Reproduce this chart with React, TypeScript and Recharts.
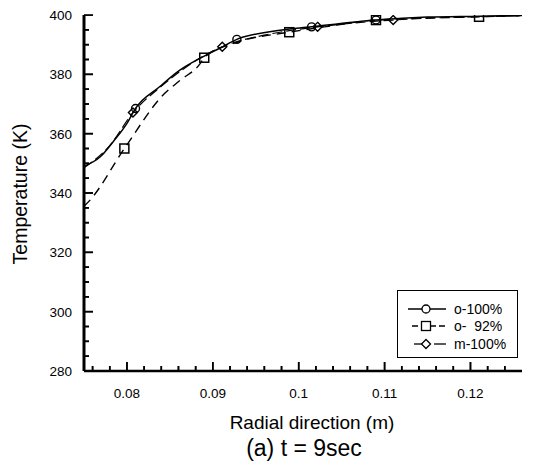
import { ComposedChart, Line, Scatter, XAxis, YAxis } from "recharts";

// o-100% (solid, circles)
const o100X = [0.075, 0.0769, 0.0784, 0.08, 0.081, 0.0838, 0.0862, 0.0885, 0.0908, 0.0928, 0.097, 0.1015, 0.109, 0.115, 0.121, 0.126];
const o100Y = [349, 352.2, 357.3, 363.5, 368.5, 375.8, 381.5, 385.4, 388.8, 391.8, 394.5, 396, 398.3, 399.3, 399.6, 399.9];
const o100MarkX = [0.081, 0.0928, 0.1015, 0.109];
const o100MarkY = [368.5, 391.8, 396, 398.3];

// o-92% (dashed, squares)
const o92X = [0.075, 0.0757, 0.0797, 0.0844, 0.0862, 0.0885, 0.089, 0.0925, 0.0989, 0.103, 0.109, 0.121, 0.126];
const o92Y = [335.5, 337.6, 355, 373.6, 378, 383.5, 385.6, 390.5, 394.2, 396, 398.3, 399.4, 399.8];
const o92MarkX = [0.0797, 0.089, 0.0989, 0.109, 0.121];
const o92MarkY = [355, 385.6, 394.2, 398.3, 399.4];

// m-100% (long dash, diamonds)
const m100X = [0.075, 0.078, 0.0807, 0.0838, 0.0862, 0.0885, 0.0911, 0.0965, 0.1022, 0.111, 0.126];
const m100Y = [348.5, 356, 367.1, 375.5, 381, 385.5, 389.3, 393.5, 396, 398.3, 399.7];
const m100MarkX = [0.0807, 0.0911, 0.1022, 0.111];
const m100MarkY = [367.1, 389.3, 396, 398.3];

const xTicks = [0.076, 0.078, 0.08, 0.082, 0.084, 0.086, 0.088, 0.09, 0.092, 0.094, 0.096, 0.098, 0.1, 0.102, 0.104, 0.106, 0.108, 0.11, 0.112, 0.114, 0.116, 0.118, 0.12, 0.122, 0.124];
const xMajor = [0.08, 0.09, 0.1, 0.11, 0.12];
const xMajorLabels = ["0.08", "0.09", "0.1", "0.11", "0.12"];
const yTicks = [280, 285, 290, 295, 300, 305, 310, 315, 320, 325, 330, 335, 340, 345, 350, 355, 360, 365, 370, 375, 380, 385, 390, 395, 400];
const yMajor = [280, 300, 320, 340, 360, 380, 400];

const legendItems = ["o-100%", "o-  92%", "m-100%"];

const zip = (xs: number[], ys: number[]) => xs.map((x, i) => ({ x, y: ys[i] }));

const FONT = "Arial, 'Liberation Sans', sans-serif";
const X_DOMAIN = [0.075, 0.126];
const Y_DOMAIN = [280, 400];

const xMajorIndex = (v: number) => xMajor.findIndex((m) => Math.abs(m - v) < 1e-6);

function XTick({ x, y, payload }: any) {
  const idx = xMajorIndex(payload.value);
  const len = idx >= 0 ? 9 : 5;
  return (
    <g>
      <path d={`M${x},${y}L${x},${y - len}`} stroke="#000" strokeWidth={1.6} fill="none" />
      {idx >= 0 && (
        <text x={x} y={y + 27} textAnchor="middle" fontSize={13.5} fontFamily={FONT} fill="#000">
          {xMajorLabels[idx]}
        </text>
      )}
    </g>
  );
}

function YTick({ x, y, payload }: any) {
  const major = yMajor.includes(payload.value);
  const len = major ? 9 : 5;
  return (
    <g>
      <path d={`M${x},${y}L${x + len},${y}`} stroke="#000" strokeWidth={1.6} fill="none" />
      {major && (
        <text x={x - 12} y={y + 5} textAnchor="end" fontSize={13.5} fontFamily={FONT} fill="#000">
          {payload.value}
        </text>
      )}
    </g>
  );
}

// the same inward tick marks, also placed as points through the chart scales
const xTickMarks = xTicks.map((x) => ({ x, y: Y_DOMAIN[0], major: xMajorIndex(x) >= 0 }));
const yTickMarks = yTicks.map((y) => ({ x: X_DOMAIN[0], y, major: yMajor.includes(y) }));
const xTickShape = (p: any) => (
  <path d={`M${p.cx},${p.cy}L${p.cx},${p.cy - (p.payload.major ? 9 : 5)}`} stroke="#000" strokeWidth={1.6} fill="none" />
);
const yTickShape = (p: any) => (
  <path d={`M${p.cx},${p.cy}L${p.cx + (p.payload.major ? 9 : 5)},${p.cy}`} stroke="#000" strokeWidth={1.6} fill="none" />
);

const circleShape = (p: any) => <circle cx={p.cx} cy={p.cy} r={4} fill="none" stroke="#000" strokeWidth={1.4} />;
const squareShape = (p: any) => <rect x={p.cx - 4.5} y={p.cy - 4.5} width={9} height={9} fill="none" stroke="#000" strokeWidth={1.5} />;
const diamondShape = (p: any) => (
  <path d={`M${p.cx},${p.cy - 4.5}L${p.cx + 4.5},${p.cy}L${p.cx},${p.cy + 4.5}L${p.cx - 4.5},${p.cy}Z`} fill="none" stroke="#000" strokeWidth={1.4} />
);

function LegendIcon({ kind }: { kind: number }) {
  return (
    <svg width={46} height={14} style={{ display: "block" }}>
      {kind === 0 && (
        <g>
          <line x1={2} x2={40} y1={7} y2={7} stroke="#000" strokeWidth={1.3} />
          <circle cx={20} cy={7} r={4} fill="#fff" stroke="#000" strokeWidth={1.3} />
        </g>
      )}
      {kind === 1 && (
        <g>
          <line x1={6} x2={40} y1={7} y2={7} stroke="#000" strokeWidth={1.3} strokeDasharray="6 3" />
          <rect x={15.5} y={2.5} width={9} height={9} fill="#fff" stroke="#000" strokeWidth={1.3} />
        </g>
      )}
      {kind === 2 && (
        <g>
          <line x1={8} x2={22} y1={7} y2={7} stroke="#000" strokeWidth={1.3} />
          <line x1={28} x2={40} y1={7} y2={7} stroke="#000" strokeWidth={1.3} />
          <path d="M20,2.5L24.5,7L20,11.5L15.5,7Z" fill="#fff" stroke="#000" strokeWidth={1.3} />
        </g>
      )}
    </svg>
  );
}

export default function App() {
  return (
    <div style={{ position: "absolute", left: 0, top: 0, width: 534, height: 469, background: "#fff" }}>
      <ComposedChart width={534} height={469} margin={{ top: 15, right: 12, left: 0, bottom: 68 }}>
        <XAxis
          dataKey="x"
          type="number"
          domain={X_DOMAIN}
          ticks={xTicks}
          interval={0}
          allowDataOverflow
          height={30}
          tickSize={0}
          tickMargin={0}
          tickLine={false}
          tick={XTick}
          axisLine={{ stroke: "#000", strokeWidth: 2.5 }}
          label={({ viewBox }: any) => (
            <g>
              <text x={312} y={viewBox.y + 58} textAnchor="middle" fontSize={19} fontFamily={FONT} fill="#000">
                Radial direction (m)
              </text>
              <text x={304} y={viewBox.y + 85} textAnchor="middle" fontSize={23} fontFamily={FONT} fill="#000">
                (a) t = 9sec
              </text>
            </g>
          )}
        />
        <XAxis xAxisId="top" orientation="top" type="number" domain={X_DOMAIN} height={0} tick={false} tickLine={false} axisLine={{ stroke: "#000", strokeWidth: 2.5 }} />
        <YAxis
          type="number"
          domain={Y_DOMAIN}
          ticks={yTicks}
          interval={0}
          allowDataOverflow
          width={84}
          tickSize={0}
          tickMargin={0}
          tickLine={false}
          tick={YTick}
          axisLine={{ stroke: "#000", strokeWidth: 3 }}
          label={() => (
            <text x={27} y={194} transform="rotate(-90 27 194)" textAnchor="middle" fontSize={19.5} fontFamily={FONT} fill="#000">
              Temperature (K)
            </text>
          )}
        />
        <YAxis yAxisId="right" orientation="right" width={0} domain={Y_DOMAIN} tick={false} tickLine={false} axisLine={{ stroke: "#000", strokeWidth: 1.5 }} />

        <Line data={zip(m100X, m100Y)} dataKey="y" type="monotone" stroke="#000" strokeWidth={1.2} strokeDasharray="10 4" dot={false} isAnimationActive={false} />
        <Line data={zip(o92X, o92Y)} dataKey="y" type="monotone" stroke="#000" strokeWidth={1.4} strokeDasharray="9 6" dot={false} isAnimationActive={false} />
        <Line data={zip(o100X, o100Y)} dataKey="y" type="monotone" stroke="#000" strokeWidth={1.5} dot={false} isAnimationActive={false} />
        <Scatter data={zip(o100MarkX, o100MarkY)} dataKey="y" shape={circleShape} isAnimationActive={false} />
        <Scatter data={zip(o92MarkX, o92MarkY)} dataKey="y" shape={squareShape} isAnimationActive={false} />
        <Scatter data={zip(m100MarkX, m100MarkY)} dataKey="y" shape={diamondShape} isAnimationActive={false} />
        <Scatter data={xTickMarks} dataKey="y" shape={xTickShape} isAnimationActive={false} />
        <Scatter data={yTickMarks} dataKey="y" shape={yTickShape} isAnimationActive={false} />
      </ComposedChart>

      <div
        style={{
          position: "absolute",
          left: 397,
          top: 290,
          width: 121,
          height: 68,
          border: "1.5px solid #000",
          background: "#fff",
          fontFamily: FONT,
          fontSize: 14,
          paddingTop: 9,
          boxSizing: "border-box",
        }}
      >
        {legendItems.map((name, i) => (
          <div key={name} style={{ display: "flex", alignItems: "center", height: 17.5, paddingLeft: 8 }}>
            <LegendIcon kind={i} />
            <span style={{ whiteSpace: "pre", marginLeft: 2 }}>{name}</span>
          </div>
        ))}
      </div>
    </div>
  );
}
